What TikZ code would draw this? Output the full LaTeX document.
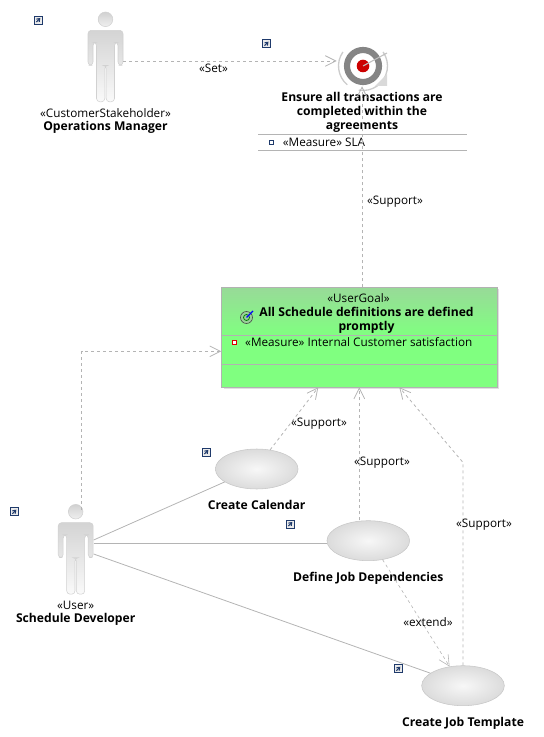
\documentclass[tikz,border=0pt]{standalone}
\usepackage{fontspec}
\setmainfont{Open Sans}
\usetikzlibrary{
    arrows.meta,
    shapes.geometric,
    positioning,
    calc
}
\definecolor{linegray}{HTML}{B4B4B4}
\definecolor{goalgreen}{HTML}{80FF80}
\definecolor{goaltop}{HTML}{98DA98}
\definecolor{linknavy}{HTML}{1F3A6B}
\tikzstyle{stereo} = [
    inner sep=0pt,
    font=\fontsize{8.8}{10}\selectfont
]
\tikzstyle{title} = [
    inner sep=0pt,
    align=center,
    font=\fontsize{9.1}{10.5}\selectfont\bfseries
]
\tikzstyle{usecase} = [
    ellipse,
    draw=black!22,
    inner color=black!3,
    outer color=black!14,
    minimum width=62pt,
    minimum height=30pt,
    inner sep=0pt
]
\tikzstyle{actorbox} = [
    rectangle,
    inner sep=0pt,
    minimum width=26.5pt
]
\tikzstyle{compartment} = [
    rectangle,
    draw=black!30,
    fill=goalgreen,
    minimum width=207pt,
    inner sep=0pt,
    outer sep=0pt
]
\tikzstyle{link} = [
    draw=linegray,
    line width=0.6pt
]
\tikzstyle{depend} = [
    draw=linegray,
    line width=0.6pt,
    dash pattern=on 2.25pt off 2.25pt,
    -{Straight Barb[length=8pt,width=8pt]}
]
\tikzstyle{bullet} = [
    rectangle,
    draw=#1,
    fill=white,
    line width=0.6pt,
    minimum size=3pt,
    inner sep=0pt
]
\tikzset{
    actor/.pic={
        \path[draw=black!18, top color=black!17, bottom color=black!2, rounded corners=2.5pt]
            (-17.5,11) -- (17.5,11) -- (17.5,46) -- (12.5,46) -- (12.5,23) -- (9,23)
            -- (9,82.5) -- (0.7,82.5) -- (0.7,46) -- (-0.7,46) -- (-0.7,82.5) -- (-9,82.5)
            -- (-9,23) -- (-12.5,23) -- (-12.5,46) -- (-17.5,46) -- cycle;
        \path[draw=black!18, top color=black!18, bottom color=black!6] (0,0) circle (7.3);
    },
    shortcut/.pic={
        \draw[linknavy, fill=black!8, line width=0.7pt] (-4,-4) rectangle (4,4);
        \draw[linknavy, line width=0.8pt, -{Straight Barb[length=2pt,width=3pt]}] (-2,2) -- (2,-2);
    }
}

\begin{document}
\begin{tikzpicture}[x=0.75pt, y=-0.75pt]
        \useasboundingbox (0,0) rectangle (543,737);

        % Actors
        \pic at (105.5,19.3) {actor};
        \pic at (75.7,511.7) {actor};
        \node[actorbox, minimum height=67pt] (manager) at (105.5,57) {};
        \node[actorbox, minimum height=62pt] (developer) at (75.7,551.5) {};
        \node[stereo, below=5pt of manager] (managertype) {«CustomerStakeholder»};
        \node[title, below=2pt of managertype] (managername) {Operations Manager};
        \node[stereo, below=6pt of developer] (developertype) {«User»};
        \node[title, below=2pt of developertype] (developername) {Schedule Developer};

        % Top goal
        \node[minimum size=37.5pt, inner sep=0pt] (target) at (362,61) {};
        \draw[black!20, line width=1pt] (363,66) ++(100:24.5) arc (100:-35:24.5);
        \draw[black!20, line width=1pt] (363,66) ++(130:24.5) arc (130:215:24.5);
        \fill[black!15] (387,86) -- (375,86) -- (387,74) -- cycle;
        \draw[black!48, line width=4.6pt] (363,66) circle (16);
        \fill[red!80!black] (363,66) circle (6.3);
        \draw[black!25, line width=0.8pt] (363,66) -- (387,53);
        \node[title, below=4.5pt of target] (goaltitle) {Ensure all transactions are\\completed within the\\agreements};
        \draw[link] (258,134.3) -- (467,134.3);
        \draw[link] (258,150.3) -- (467,150.3);
        \node[bullet=linknavy] (slabullet) at (271.5,142) {};
        \node[stereo, right=6.5pt of slabullet] (slatext) {«Measure» SLA};

        % Green goal
        \fill[black!12] (223.5,289) rectangle (499,389);
        \node[compartment, minimum height=36pt, top color=goaltop, bottom color=goalgreen] (goalhead) at (359.3,311.3) {};
        \node[compartment, minimum height=21.75pt, below=0pt of goalhead] (goalmeasure) {};
        \node[compartment, minimum height=17.25pt, below=0pt of goalmeasure] (goalfoot) {};
        \node[stereo] (goaltype) at (358.5,298) {«UserGoal»};
        \node[title] (goalname) at (366.5,320) {All Schedule definitions are defined\\promptly};
        \draw[black!70, fill=green!55!black!40, line width=0.5pt] (246.5,317.5) circle (6);
        \draw[green!50!black, line width=0.6pt] (246.5,317.5) circle (3);
        \draw[blue, line width=0.9pt] (246.5,317.5) -- (253,311);
        \node[bullet=red!85!black] (goalbullet) at (234.5,342) {};
        \node[stereo, right=6pt of goalbullet] (goalmeasuretext) {«Measure» Internal Customer satisfaction};

        % Use cases
        \node[usecase] (calendar) at (256.7,469) {};
        \node[usecase] (define) at (368.3,540.7) {};
        \node[usecase] (template) at (463,685.7) {};
        \node[title, below=8pt of calendar] (calendarname) {Create Calendar};
        \node[title, below=8pt of define] (definename) {Define Job Dependencies};
        \node[title, below=8pt of template] (templatename) {Create Job Template};

        % Associations
        \draw[link] ($(developer.east)+(0,-11.5)$) -- (calendar.202);
        \draw[link] ($(developer.east)+(0,-8)$) -- (define.west |- 0,543.5);
        \draw[link] ($(developer.east)+(0,2.5)$) -- (template.159);

        % Dependencies
        \draw[depend] (manager.east |- target.west) -- (target.west);
        \draw[depend] (goalhead.north -| target.south) -- (target.south);
        \draw[depend] ($(developer.north)+(6,0)$) |- ($(goalmeasure.west)+(0,1.5)$);
        \draw[depend] (calendar.55) -- ($(goalfoot.south)+(-41,0)$);
        \draw[depend] (define.north -| goalfoot.south) -- (goalfoot.south);
        \draw[depend] (template.north) -- ++(0,-203) -- ($(goalfoot.south)+(40,0)$);
        \draw[depend, line width=0.45pt] (define.-53) -- (template.125);

        % Connector labels
        \node[stereo] (setlabel) at (213.5,68) {«Set»};
        \node[stereo] (supportgoal) at (395,201.5) {«Support»};
        \node[stereo] (supportcalendar) at (319,423.5) {«Support»};
        \node[stereo] (supportdefine) at (382,462.5) {«Support»};
        \node[stereo] (supporttemplate) at (484,524.5) {«Support»};
        \node[stereo] (extendlabel) at (428,622) {«extend»};

        % Shortcut marks
        \foreach \px/\py in {38.3/20, 266.5/43.7, 14.3/511.7, 206.3/452, 290.3/524, 398.3/668.7}
            \pic at (\px,\py) {shortcut};
    \end{tikzpicture}
\end{document}
